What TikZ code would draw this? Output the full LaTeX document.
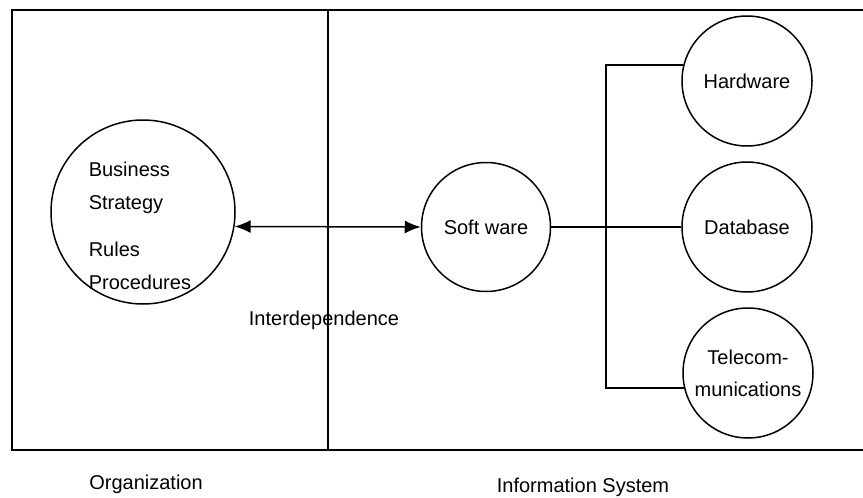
\documentclass[tikz,border=0pt]{standalone}
\usepackage{fontspec}
\setmainfont{Liberation Sans}
\usetikzlibrary{arrows.meta}

\tikzset{
  circbox/.style={draw, circle, line width=0.75pt, inner sep=0pt, align=center,
                  font=\fontsize{10}{16}\selectfont},
  plaintext/.style={inner sep=0pt, font=\fontsize{10}{12}\selectfont},
  tip/.style={{Latex[length=8pt,width=6.5pt]}-{Latex[length=8pt,width=6.5pt]}}
}

\begin{document}
\begin{tikzpicture}[x=0.5pt,y=-0.5pt,line width=0.75pt]
    \useasboundingbox (0,0) rectangle (863,498);
    % frame
    \draw (863,10) -- (12,10) -- (12,450) -- (863,450);
    \draw (328,10) -- (328,450);
    %
    \node[circbox, minimum size=92pt] (bizcircle) at (143,212) {};
    \node[plaintext, anchor=base west, align=left,
          font=\fontsize{10}{16.5}\selectfont] (bizlines) at (88,289)
          {Business\\Strategy\\[7pt]Rules\\Procedures};
    \node[circbox, minimum size=64.5pt] (software) at (486,227) {Soft ware};
    \node[circbox, minimum size=65pt] (hardware) at (747,81) {Hardware};
    \node[circbox, minimum size=65pt] (database) at (747,227) {Database};
    \node[circbox, minimum size=65pt] (telecom) at (748,373) {Telecom-\\munications};
    %
    \draw[tip] (bizcircle.-9.4) -- (software.west);
    \draw (software.east) -- (database.west);
    \draw (hardware.166.7) -- ++(-77,0) |- (telecom.193.3);
    %
    \node[plaintext] (interdep) at (324,320) {Interdependence};
    \node[plaintext] (orglabel) at (146,484) {Organization};
    \node[plaintext] (infolabel) at (583,487) {Information System};
\end{tikzpicture}
\end{document}
